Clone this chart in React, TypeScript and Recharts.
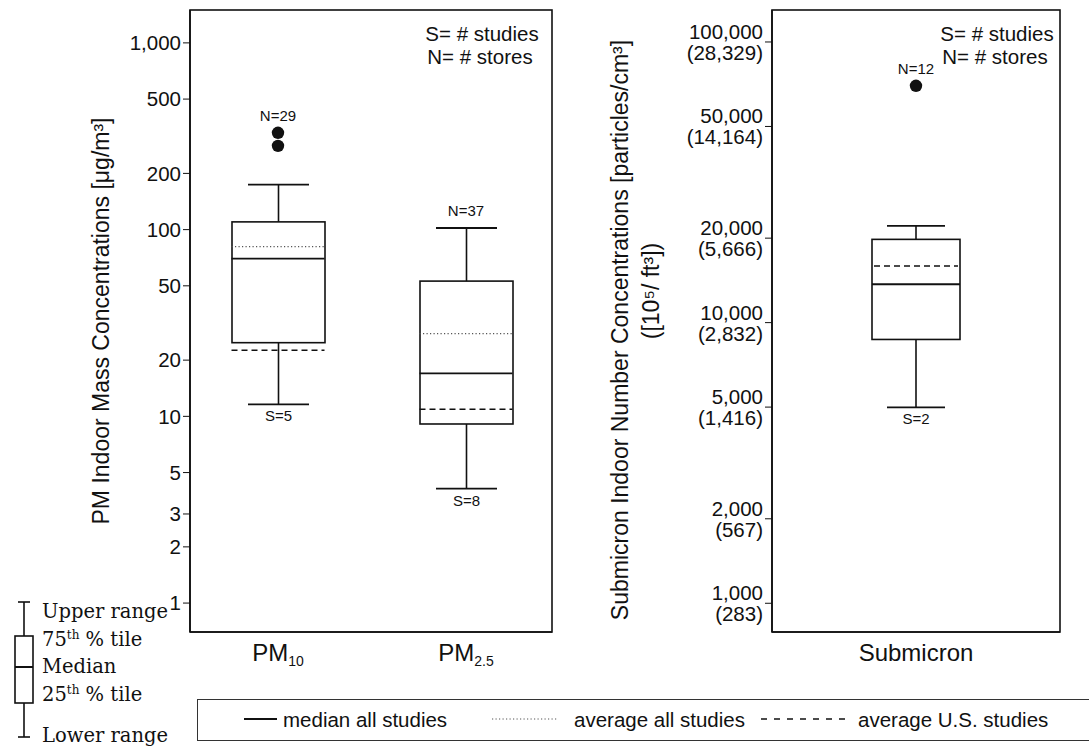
import React from "react";
import { ComposedChart, Bar, Line, XAxis, YAxis, Legend, LabelList, ReferenceArea } from "recharts";

const INK = "#111";
const FONT = "'Liberation Sans', Arial, Helvetica, sans-serif";
const SERIF = "'DejaVu Serif', Georgia, serif";

// PM mass concentrations (µg/m3)
const pmCategories = ["PM10", "PM2.5"];
const pmLow = [11.6, 4.1];
const pmQ1 = [24.8, 9.1];
const pmMedian = [70, 17];
const pmQ3 = [110, 53];
const pmHigh = [174, 102];
const pmAvgAll = [81, 27.7];
const pmAvgUS = [22.6, 10.9];
const pmOutliers = [[330, 281], []];
const pmN = ["N=29", "N=37"];
const pmS = ["S=5", "S=8"];
const pmTicks = [1, 2, 3, 5, 10, 20, 50, 100, 200, 500, 1000];

// submicron number concentrations (particles/cm3)
const subCategories = ["Submicron"];
const subLow = [4990];
const subQ1 = [8710];
const subMedian = [13700];
const subQ3 = [19800];
const subHigh = [22100];
const subAvgAll: (number | null)[] = [null];
const subAvgUS = [15900];
const subOutliers = [[69800]];
const subN = ["N=12"];
const subS = ["S=2"];
const subTicks = [1000, 2000, 5000, 10000, 20000, 50000, 100000];
const subTicksFt3 = ["(283)", "(567)", "(1,416)", "(2,832)", "(5,666)", "(14,164)", "(28,329)"];

function buildRows(
  cats: string[], low: number[], q1: number[], med: number[], q3: number[], high: number[],
  avgAll: (number | null)[], avgUS: number[], outs: number[][], n: string[], s: string[]
) {
  return cats.map((name, i) => ({
    name,
    whisker: [low[i], high[i]],
    box: [q1[i], q3[i]],
    median: med[i],
    avgAll: avgAll[i],
    avgUS: avgUS[i],
    out1: outs[i][0] ?? null,
    out2: outs[i][1] ?? null,
    top: Math.max(high[i], ...outs[i]),
    n: n[i],
    s: s[i],
  }));
}

const pmData = buildRows(pmCategories, pmLow, pmQ1, pmMedian, pmQ3, pmHigh, pmAvgAll, pmAvgUS, pmOutliers, pmN, pmS);
const subData = buildRows(subCategories, subLow, subQ1, subMedian, subQ3, subHigh, subAvgAll, subAvgUS, subOutliers, subN, subS);

const seriesStyle: Record<string, { stroke: string; width: number; dash?: string }> = {
  median: { stroke: INK, width: 1.8 },
  avgAll: { stroke: "#555", width: 1.2, dash: "1.2 2.3" },
  avgUS: { stroke: INK, width: 1.5, dash: "6 4" },
};

const whiskerShape = (capHalf: number) => (props: any) => {
  const { x, y, width, height, payload } = props;
  const cx = x + width / 2;
  const top = Math.min(y, y + height);
  const bot = Math.max(y, y + height);
  return (
    <g>
      <line x1={cx} x2={cx} y1={top} y2={bot} stroke={INK} strokeWidth={1.6} />
      <line x1={cx - capHalf} x2={cx + capHalf} y1={top} y2={top} stroke={INK} strokeWidth={1.8} />
      <line x1={cx - capHalf} x2={cx + capHalf} y1={bot} y2={bot} stroke={INK} strokeWidth={1.8} />
      <text x={cx} y={bot + 17} textAnchor="middle" fontSize={15} fontFamily={FONT} fill={INK}>
        {payload.s}
      </text>
    </g>
  );
};

const boxShape = (props: any) => {
  const { x, y, width, height } = props;
  const top = Math.min(y, y + height);
  return <rect x={x} y={top} width={width} height={Math.abs(height)} fill="#fff" stroke={INK} strokeWidth={1.6} />;
};

const segDot = (key: string, half: number) => (p: any) => {
  const st = seriesStyle[key];
  if (typeof p.cy !== "number" || isNaN(p.cy) || p.value == null) return <g key={`${key}-${p.index}`} />;
  return (
    <line key={`${key}-${p.index}`} x1={p.cx - half} x2={p.cx + half} y1={p.cy} y2={p.cy}
      stroke={st.stroke} strokeWidth={st.width} strokeDasharray={st.dash} />
  );
};

const outlierDot = (key: string) => (p: any) => {
  if (typeof p.cy !== "number" || isNaN(p.cy) || p.value == null) return <g key={`${key}-${p.index}`} />;
  return <circle key={`${key}-${p.index}`} cx={p.cx} cy={p.cy} r={6.2} fill={INK} />;
};

const noDot = (p: any) => <g key={`none-${p.index}`} />;

const XTick = (p: any) => {
  const label: string = p.payload.value;
  const m = label.match(/^PM(.+)$/);
  return (
    <text x={p.x} y={p.y + 29} textAnchor="middle" fontSize={24} fontFamily={FONT} fill={INK}>
      {m ? (
        <>
          PM<tspan fontSize={14} dy={5}>{m[1]}</tspan>
        </>
      ) : label}
    </text>
  );
};

const SubTick = (p: any) => {
  const v: number = p.payload.value;
  const i = subTicks.indexOf(v);
  return (
    <g fontSize={20.5} fontFamily={FONT} fill={INK}>
      <text x={p.x} y={p.y - 3} textAnchor="end">{v.toLocaleString("en-US")}</text>
      <text x={p.x} y={p.y + 18} textAnchor="end">{subTicksFt3[i]}</text>
    </g>
  );
};

// frame drawn from the reference area, trimmed back by the x-axis padding
const frameShape = (padL: number, padR: number) => (p: any) => (
  <rect x={p.x - padL} y={p.y} width={p.width + padL + padR} height={p.height}
    fill="none" stroke={INK} strokeWidth={1.6} />
);

const annotation = (fromRight: number) => (props: any) => {
  const vb = props.viewBox;
  const cx = vb.x + vb.width - fromRight;
  return (
    <g fontSize={20.5} fontFamily={FONT} fill={INK} textAnchor="middle">
      <text x={cx} y={vb.y + 31}>S= # studies</text>
      <text x={cx - 2} y={vb.y + 54}>N= # stores</text>
    </g>
  );
};

const pmTitle = (props: any) => {
  const vb = props.viewBox;
  const x = vb.x + 101;
  const y = vb.y + vb.height / 2;
  return (
    <text x={x} y={y} transform={`rotate(-90 ${x} ${y})`} textAnchor="middle" dominantBaseline="central"
      fontSize={23} fontFamily={FONT} fill={INK}>
      PM Indoor Mass Concentrations [μg/m³]
    </text>
  );
};

const subTitle = (props: any) => {
  const vb = props.viewBox;
  const x1 = vb.x + 620;
  const y1 = vb.y + vb.height / 2 + 9;
  const x2 = vb.x + 651;
  const y2 = vb.y + vb.height / 2 - 30;
  return (
    <g fontSize={23} fontFamily={FONT} fill={INK} textAnchor="middle" dominantBaseline="central">
      <text x={x1} y={y1} transform={`rotate(-90 ${x1} ${y1})`}>
        Submicron Indoor Number Concentrations [particles/cm³]
      </text>
      <text x={x2} y={y2} transform={`rotate(-90 ${x2} ${y2})`}>([10⁵/ ft³])</text>
    </g>
  );
};

const legendPlacement: Record<string, [number, number, number]> = {
  median: [46, 79, 85],
  avgAll: [294, 360, 376],
  avgUS: [563, 652, 660],
};

const LegendBox = (props: any) => {
  const items = (props.payload || []).filter((e: any) => legendPlacement[e.dataKey]);
  return (
    <div style={{ width: 900, height: 42, border: "1.5px solid #333", boxSizing: "border-box", background: "#fff" }}>
      <svg width={896} height={39}>
        {items.map((e: any) => {
          const [x1, x2, tx] = legendPlacement[e.dataKey];
          const st = seriesStyle[e.dataKey];
          return (
            <g key={e.dataKey}>
              <line x1={x1} x2={x2} y1={19} y2={19} stroke={st.stroke} strokeWidth={st.width}
                strokeDasharray={e.dataKey === "avgUS" ? "6 7" : st.dash} />
              <text x={tx} y={19} dominantBaseline="central" fontSize={20.5} fontFamily={FONT} fill={INK}>
                {e.value}
              </text>
            </g>
          );
        })}
      </svg>
    </div>
  );
};

const BoxKey = () => (
  <svg width={190} height={161} style={{ position: "absolute", left: 0, top: 590 }}>
    <g stroke={INK} strokeWidth={1.6} fill="none">
      <line x1={18} x2={30} y1={12} y2={12} />
      <line x1={24} x2={24} y1={12} y2={46} />
      <rect x={15} y={46} width={18} height={67} fill="#fff" />
      <line x1={15} x2={33} y1={77} y2={77} strokeWidth={2} />
      <line x1={24} x2={24} y1={113} y2={147} />
      <line x1={18} x2={30} y1={147} y2={147} />
    </g>
    <g fontSize={19.5} fontFamily={SERIF} fill={INK}>
      <text x={42} y={28}>Upper range</text>
      <text x={42} y={56}>75<tspan fontSize={12} dy={-7}>th</tspan><tspan dy={7}> % tile</tspan></text>
      <text x={42} y={83}>Median</text>
      <text x={42} y={111}>25<tspan fontSize={12} dy={-7}>th</tspan><tspan dy={7}> % tile</tspan></text>
      <text x={42} y={152}>Lower range</text>
    </g>
  </svg>
);

const W = 1089;
const H = 751;
const frameLine = { stroke: INK, strokeWidth: 1.6 };
const pmDomain: [number, number] = [0.7, 1500];
const subDomain: [number, number] = [790, 130000];
const PAD_L = -6;
const PAD_R = -8;

export default function App() {
  return (
    <div style={{ position: "absolute", left: 0, top: 0, width: W, height: H, overflow: "hidden", background: "#fff" }}>
      <div style={{ position: "absolute", left: 0, top: 0 }}>
        <ComposedChart width={W} height={H} data={pmData} margin={{ top: 10, right: 537, left: 0, bottom: 79 }}
          barSize={93} barGap={-93}>
          <XAxis dataKey="name" height={40} tickLine={false} tickSize={0} tickMargin={0} axisLine={frameLine}
            tick={<XTick />} padding={{ left: PAD_L, right: PAD_R }} />
          <YAxis scale="log" type="number" domain={pmDomain} allowDataOverflow ticks={pmTicks} interval={0}
            width={190} tickSize={7} axisLine={frameLine} tickLine={{ stroke: INK }}
            tick={{ fill: INK, fontSize: 20.5, fontFamily: FONT }} tickFormatter={(v: number) => v.toLocaleString("en-US")}
            label={pmTitle} />
          <ReferenceArea y1={pmDomain[0]} y2={pmDomain[1]} ifOverflow="visible" shape={frameShape(PAD_L, PAD_R)}
            label={annotation(70 - PAD_R)} />
          <Bar dataKey="whisker" shape={whiskerShape(30.5)} legendType="none" isAnimationActive={false} />
          <Bar dataKey="box" shape={boxShape} legendType="none" isAnimationActive={false} />
          <Line dataKey="median" name="median all studies" stroke="none" dot={segDot("median", 46.5)}
            activeDot={false} isAnimationActive={false} />
          <Line dataKey="avgAll" name="average all studies" stroke="none" dot={segDot("avgAll", 46.5)}
            activeDot={false} isAnimationActive={false} />
          <Line dataKey="avgUS" name="average U.S. studies" stroke="none" dot={segDot("avgUS", 46.5)}
            activeDot={false} isAnimationActive={false} />
          <Line dataKey="top" stroke="none" dot={noDot} activeDot={false} legendType="none" isAnimationActive={false}>
            <LabelList dataKey="n" position="top" offset={12} fontSize={15} fontFamily={FONT} fill={INK} />
          </Line>
          <Line dataKey="out1" stroke="none" dot={outlierDot("out1")} activeDot={false} legendType="none"
            isAnimationActive={false} />
          <Line dataKey="out2" stroke="none" dot={outlierDot("out2")} activeDot={false} legendType="none"
            isAnimationActive={false} />
          <Legend layout="horizontal" verticalAlign="middle" align="center" content={<LegendBox />}
            wrapperStyle={{ left: 197, top: 699, width: 900, height: 42 }} />
        </ComposedChart>
      </div>
      <div style={{ position: "absolute", left: 0, top: 0 }}>
        <ComposedChart width={W} height={H} data={subData} margin={{ top: 10, right: 29, left: 0, bottom: 79 }}
          barSize={88} barGap={-88}>
          <XAxis dataKey="name" height={40} tickLine={false} tickSize={0} tickMargin={0} axisLine={frameLine}
            tick={<XTick />} />
          <YAxis scale="log" type="number" domain={subDomain} allowDataOverflow ticks={subTicks} interval={0}
            width={772} tickSize={7} axisLine={frameLine} tickLine={{ stroke: INK }} tick={<SubTick />}
            label={subTitle} />
          <ReferenceArea y1={subDomain[0]} y2={subDomain[1]} ifOverflow="visible" shape={frameShape(0, 0)}
            label={annotation(63)} />
          <Bar dataKey="whisker" shape={whiskerShape(29)} legendType="none" isAnimationActive={false} />
          <Bar dataKey="box" shape={boxShape} legendType="none" isAnimationActive={false} />
          <Line dataKey="median" stroke="none" dot={segDot("median", 44)} activeDot={false} isAnimationActive={false} />
          <Line dataKey="avgUS" stroke="none" dot={segDot("avgUS", 42)} activeDot={false} isAnimationActive={false} />
          <Line dataKey="top" stroke="none" dot={noDot} activeDot={false} isAnimationActive={false}>
            <LabelList dataKey="n" position="top" offset={12} fontSize={15} fontFamily={FONT} fill={INK} />
          </Line>
          <Line dataKey="out1" stroke="none" dot={outlierDot("out1")} activeDot={false} isAnimationActive={false} />
        </ComposedChart>
      </div>
      <BoxKey />
    </div>
  );
}
